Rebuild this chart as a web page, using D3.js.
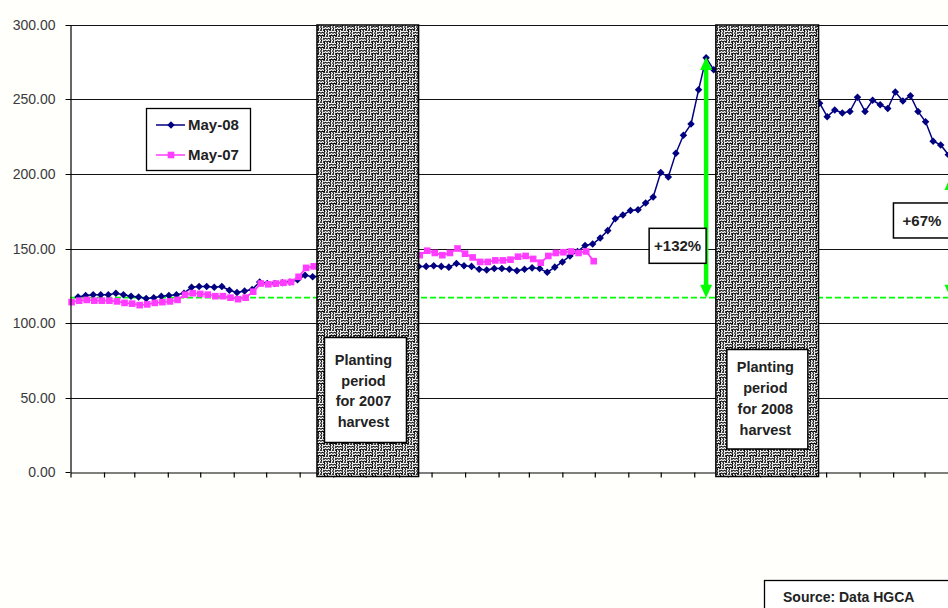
<!DOCTYPE html>
<html><head><meta charset="utf-8">
<script src="https://cdn.jsdelivr.net/npm/d3@7"></script>
<style>
html,body{margin:0;padding:0;background:#fffffc;}
svg{display:block;font-family:"Liberation Sans",Arial,Helvetica,sans-serif;}
</style>
</head><body>
<svg id="chart" width="948" height="608"></svg>
<script>
// ---------------- DATA ----------------
const seriesNames = ["May-08", "May-07"];
const may08Start = "2006-01-08";   // weekly observations
const may07Start = "2006-01-02";   // weekly observations
// May-08 contract (null = week hidden behind the planting-period panels)
const may08Values = [
  117.5,118.5,119,119,119,120,119,118,117.5,116.5,117,118,118.5,119,120,124,
  124.5,124.5,124,124.5,122,120.5,121.5,122.5,127.5,126.5,126.5,127,127.5,129,132,131,
  null,null,null,null,null,null,null,null,null,null,null,null,null,
  138,138,138.5,138,137.5,140,138.5,138,136,135.5,136.5,136.5,136,135,136,137,
  136.5,134,137.5,141,145,148,152,153,157,162,170,172.5,175.5,176,180.5,184.5,
  201,198,214,226,233.5,256.5,278,270,
  null,null,null,null,null,null,null,null,null,null,null,null,null,
  247.5,238.5,243,241,242,251.5,242,249.5,246.5,244,255,249,252.5,242,235,222,219.5,213
];
// May-07 contract
const may07Values = [
  114,115,115.5,115,115,115,114.5,113.5,113,112,112.5,113.5,114,114.5,115.5,119,
  120,119.5,119,118,118,117,116,117,121,126.5,126,126.5,127,127.5,131,137,138,
  null,null,null,null,null,null,null,null,null,null,null,null,null,
  145.5,148.5,147,145.5,147,150,146.5,144,141,141,142,142,142.5,144.5,145,143,
  140.5,145,147,147.5,148,147,148,141.5
];
const yTickValues = [0, 50, 100, 150, 200, 250, 300];
const baselineValue = 117;
const plantingPeriods = [
  {start: "2006-08-17", end: "2006-11-19", label: ["Planting", "period", "for 2007", "harvest"]},
  {start: "2007-08-21", end: "2007-11-24", label: ["Planting", "period", "for 2008", "harvest"]}
];
const changeArrows = [
  {date: "2007-08-12", from: 117, to: 278.5, label: "+132%", labelValue: 151.8},
  {date: "2008-03-25", from: 117, to: 198,   label: "+67%",  labelValue: 168.8}
];
const sourceText = "Source: Data HGCA";

// ---------------- SETUP ----------------
const W = 948, H = 608;
const parse = d3.timeParse("%Y-%m-%d");
const svg = d3.select("#chart");

const x = d3.scaleTime()
  .domain([new Date(2006, 0, 1), new Date(2008, 3, 1)])
  .range([70.5, 70.5 + 821 * (854 / 790)]);
const y = d3.scaleLinear().domain([0, 300]).range([472, 25]);
const crisp = v => Math.round(v) + 0.5;

function weekly(startStr, values) {
  const s = parse(startStr);
  return values.map((v, i) => ({date: d3.timeDay.offset(s, 7 * i), value: v}))
               .filter(d => d.value !== null);
}
const may08 = weekly(may08Start, may08Values);
const may07 = weekly(may07Start, may07Values);

const BLUE = "#000080", PINK = "#ff3cff", GREEN = "#00ff00";

// defs: woven hatch pattern
const defs = svg.append("defs");
const pat = defs.append("pattern").attr("id", "hatch")
  .attr("width", 12).attr("height", 12).attr("patternUnits", "userSpaceOnUse");
pat.append("rect").attr("width", 12).attr("height", 12).attr("fill", "#000");
pat.append("path")
  .attr("d",
    "M0,2 L1.5,0.8 L3,2 L4.5,0.8 L6,2 M0,4.8 L1.5,3.6 L3,4.8 L4.5,3.6 L6,4.8 " +
    "M7.2,0 L8.4,1.5 L7.2,3 L8.4,4.5 L7.2,6 M10,0 L11.2,1.5 L10,3 L11.2,4.5 L10,6 " +
    "M1.2,6 L2.4,7.5 L1.2,9 L2.4,10.5 L1.2,12 M4,6 L5.2,7.5 L4,9 L5.2,10.5 L4,12 " +
    "M6,8 L7.5,6.8 L9,8 L10.5,6.8 L12,8 M6,10.8 L7.5,9.6 L9,10.8 L10.5,9.6 L12,10.8")
  .attr("stroke", "#fff").attr("stroke-width", 1.25).attr("fill", "none");

// plot background
svg.append("rect").attr("x", 70).attr("y", 25).attr("width", W - 70).attr("height", 447).attr("fill", "#fff");

// gridlines
svg.append("g").selectAll("line").data(yTickValues.filter(v => v > 0)).join("line")
  .attr("x1", 70).attr("x2", W)
  .attr("y1", d => crisp(y(d))).attr("y2", d => crisp(y(d)))
  .attr("stroke", "#111").attr("stroke-width", 1);

// baseline dashed
svg.append("line")
  .attr("x1", 70).attr("x2", W)
  .attr("y1", y(baselineValue)).attr("y2", y(baselineValue))
  .attr("stroke", GREEN).attr("stroke-width", 1.7).attr("stroke-dasharray", "6,3");

// lines
const line = d3.line().x(d => x(d.date)).y(d => y(d.value));
svg.append("path").datum(may08).attr("d", line)
  .attr("fill", "none").attr("stroke", BLUE).attr("stroke-width", 1.5);
svg.append("g").selectAll("path").data(may08).join("path")
  .attr("transform", d => `translate(${x(d.date)},${y(d.value)})`)
  .attr("d", d3.symbol(d3.symbolDiamond2, 36)).attr("fill", BLUE);

svg.append("path").datum(may07).attr("d", line)
  .attr("fill", "none").attr("stroke", PINK).attr("stroke-width", 1.8);
svg.append("g").selectAll("path").data(may07).join("path")
  .attr("transform", d => `translate(${x(d.date)},${y(d.value)})`)
  .attr("d", d3.symbol(d3.symbolSquare, 44)).attr("fill", PINK);

// axes
const yAxis = d3.axisLeft(y).tickValues(yTickValues).tickFormat(d3.format(".2f"))
  .tickSize(5).tickSizeOuter(0).tickPadding(10);
const gy = svg.append("g").attr("transform", "translate(70.5,0)").call(yAxis);
gy.select(".domain").attr("stroke", "#000").attr("stroke-width", 1.2);
gy.selectAll(".tick line").attr("stroke", "#000");
gy.selectAll(".tick text").attr("font-size", 14).attr("fill", "#3a3a3a")
  .attr("font-family", "'Liberation Sans',Arial,sans-serif");
gy.selectAll(".tick").attr("transform", d => `translate(0,${crisp(y(d))})`);

const xAxis = d3.axisBottom(x).ticks(d3.timeMonth.every(1)).tickFormat("")
  .tickSize(5).tickSizeOuter(0);
const gx = svg.append("g").attr("transform", "translate(0,472.5)").call(xAxis);
gx.select(".domain").attr("stroke", "#000").attr("stroke-width", 1.2);
gx.selectAll(".tick line").attr("stroke", "#000").attr("stroke-width", 1.2);

// planting period panels
plantingPeriods.forEach((p, k) => {
  const x0 = x(parse(p.start)), x1 = x(parse(p.end));
  svg.append("rect").attr("x", x0).attr("y", 25).attr("width", x1 - x0).attr("height", 451.5)
    .attr("fill", "url(#hatch)").attr("stroke", "#000").attr("stroke-width", 1.5);
  const bx = x0 + (k === 0 ? 7.5 : 11), bw = (k === 0 ? 82 : 81);
  const by = k === 0 ? 337.5 : 349.5, bh = k === 0 ? 105 : 99.5;
  svg.append("rect").attr("x", bx).attr("y", by).attr("width", bw).attr("height", bh)
    .attr("fill", "#fff").attr("stroke", "#000").attr("stroke-width", 1.5);
  const cy0 = k === 0 ? 360 : 367, dy = k === 0 ? 20.5 : 20.8;
  svg.append("g").selectAll("text").data(p.label).join("text")
    .attr("x", bx + bw / 2 - 2).attr("y", (d, i) => cy0 + i * dy)
    .attr("dy", "0.36em").attr("text-anchor", "middle")
    .attr("font-size", 14.5).attr("font-weight", "bold").attr("fill", "#222")
    .text(d => d);
});

// change arrows and labels
changeArrows.forEach(a => {
  const ax = x(parse(a.date)), yTop = y(a.to), yBot = y(a.from);
  const hl = 13, hw = 6;
  svg.append("line").attr("x1", ax).attr("x2", ax).attr("y1", yTop + hl - 1).attr("y2", yBot - hl + 1)
    .attr("stroke", GREEN).attr("stroke-width", 4.5);
  svg.append("path")
    .attr("d", `M${ax},${yTop} L${ax + hw},${yTop + hl} L${ax - hw},${yTop + hl} Z M${ax},${yBot} L${ax + hw},${yBot - hl} L${ax - hw},${yBot - hl} Z`)
    .attr("fill", GREEN);
  const bw = 57, bh = 35, by = y(a.labelValue) - bh / 2;
  svg.append("rect").attr("x", ax - bw).attr("y", by).attr("width", bw).attr("height", bh)
    .attr("fill", "#fff").attr("stroke", "#000").attr("stroke-width", 1.5);
  svg.append("text").attr("x", ax - bw / 2).attr("y", by + bh / 2).attr("dy", "0.36em")
    .attr("text-anchor", "middle").attr("font-size", 15).attr("font-weight", "bold").attr("fill", "#222")
    .text(a.label);
});

// legend
const lg = svg.append("g");
lg.append("rect").attr("x", 146.5).attr("y", 108.5).attr("width", 104).attr("height", 62)
  .attr("fill", "#fff").attr("stroke", "#000").attr("stroke-width", 1.3);
const legendItems = [
  {name: seriesNames[0], color: BLUE, sym: d3.symbolDiamond2, size: 36, ly: 125},
  {name: seriesNames[1], color: PINK, sym: d3.symbolSquare, size: 44, ly: 155}
];
legendItems.forEach(it => {
  lg.append("line").attr("x1", 156).attr("x2", 185).attr("y1", it.ly).attr("y2", it.ly)
    .attr("stroke", it.color).attr("stroke-width", 1.5);
  lg.append("path").attr("transform", `translate(171,${it.ly})`)
    .attr("d", d3.symbol(it.sym, it.size)).attr("fill", it.color);
  lg.append("text").attr("x", 188).attr("y", it.ly).attr("dy", "0.36em")
    .attr("font-size", 15).attr("font-weight", "bold").attr("fill", "#222").text(it.name);
});

// source box
svg.append("rect").attr("x", 764.5).attr("y", 580.5).attr("width", 200).attr("height", 40)
  .attr("fill", "#fff").attr("stroke", "#000").attr("stroke-width", 1.3);
svg.append("text").attr("x", 783).attr("y", 597).attr("dy", "0.36em")
  .attr("font-size", 14).attr("font-weight", "bold").attr("fill", "#222").text(sourceText);
</script>
</body></html>
